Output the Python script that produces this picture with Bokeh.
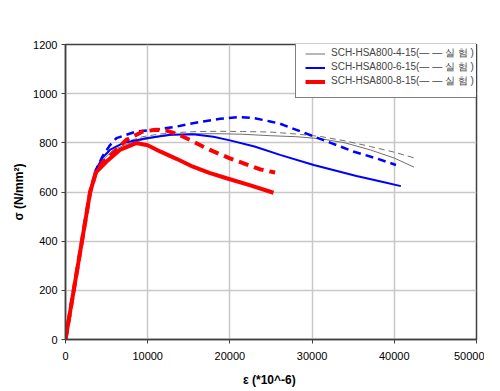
from bokeh.plotting import figure
from bokeh.models import Range1d, Legend, LegendItem, FixedTicker
from bokeh.embed import file_html
from bokeh.resources import INLINE

# strain (*10^-6) and stress (N/mm^2)
g_sol_x = [0, 1500, 3000, 3600, 4500, 5800, 7500, 9400, 11500, 13500, 16000, 18800, 21500, 24900, 28000, 31000, 34000, 37100, 40000, 42400]
g_sol_y = [0, 300, 600, 680, 730, 771, 795, 812, 825, 833, 837, 837, 835, 829, 825, 817, 800, 771, 738, 701]
g_das_x = [0, 1500, 3000, 3600, 4500, 5800, 7500, 9400, 11500, 13500, 16000, 18800, 21500, 24900, 28000, 31000, 34000, 37100, 40000, 42600]
g_das_y = [0, 300, 600, 680, 735, 780, 805, 825, 836, 842, 846, 847, 846, 844, 836, 826, 808, 785, 762, 737]
b_sol_x = [0, 1500, 3000, 3700, 4500, 5400, 7000, 9800, 12700, 15500, 18000, 20000, 23000, 26100, 30200, 35400, 38500, 40800]
b_sol_y = [0, 300, 600, 690, 740, 771, 799, 819, 833, 835, 825, 810, 785, 751, 710, 665, 642, 624]
b_das_x = [0, 1500, 3000, 3700, 4500, 5400, 6200, 8600, 11500, 13500, 15500, 18800, 21200, 23000, 24900, 26100, 30200, 35000, 38000, 40200]
b_das_y = [0, 300, 600, 690, 745, 790, 819, 846, 856, 866, 880, 898, 905, 900, 887, 878, 826, 765, 735, 710]
r_sol_x = [0, 1500, 3000, 3700, 5000, 6600, 8600, 10000, 11500, 13500, 15500, 17500, 19600, 22500, 25300]
r_sol_y = [0, 300, 600, 680, 724, 771, 799, 790, 765, 735, 703, 678, 656, 627, 597]
r_das_x = [0, 1500, 3000, 3700, 4500, 5800, 7400, 9400, 11000, 12300, 14000, 15500, 17500, 20000, 23700, 25500]
r_das_y = [0, 300, 600, 680, 720, 758, 812, 846, 853, 850, 830, 806, 772, 737, 692, 679]

labels = ["SCH-HSA800-4-15(\u2014 \u2014 실 험 )",
          "SCH-HSA800-6-15(\u2014 \u2014 실 험 )",
          "SCH-HSA800-8-15(\u2014 \u2014 실 험 )"]
x_ticks = [0, 10000, 20000, 30000, 40000, 50000]
y_ticks = [0, 200, 400, 600, 800, 1000, 1200]

p = figure(width=484, height=389, output_backend="svg", toolbar_location=None,
           x_range=Range1d(0, 50000), y_range=Range1d(0, 1200),
           min_border_left=65, min_border_right=8, min_border_top=44, min_border_bottom=36)
p.background_fill_color = "white"
p.border_fill_color = "white"
p.outline_line_color = "#404040"
p.outline_line_width = 1.5

gs = p.line(g_sol_x, g_sol_y, line_color="#707070", line_width=1)
p.line(g_das_x, g_das_y, line_color="#707070", line_width=1, line_dash="6 4")
bs = p.line(b_sol_x, b_sol_y, line_color="#0000ff", line_width=2)
p.line(b_das_x, b_das_y, line_color="#0000ff", line_width=2.5, line_dash="8 5")
rs = p.line(r_sol_x, r_sol_y, line_color="#ff0000", line_width=4)
p.line(r_das_x, r_das_y, line_color="#ff0000", line_width=4, line_dash="10 6")

for ax in (p.xaxis[0], p.yaxis[0]):
    ax.axis_line_color = "#404040"
    ax.axis_line_width = 1.5
    ax.major_tick_line_color = "#404040"
    ax.major_tick_in = 0
    ax.major_tick_out = 4
    ax.minor_tick_line_color = None
    ax.major_label_text_font = "Liberation Sans"
    ax.major_label_text_font_size = "11px"
    ax.major_label_text_color = "black"
    ax.axis_label_text_font = "Liberation Sans"
    ax.axis_label_text_font_style = "bold"
    ax.axis_label_text_font_size = "12px"
    ax.axis_label_text_color = "black"

p.xaxis.ticker = FixedTicker(ticks=x_ticks)
p.yaxis.ticker = FixedTicker(ticks=y_ticks)
p.xaxis.axis_label = "\u03b5  (*10^-6)"
p.yaxis.axis_label = "\u03c3 (N/mm\u00b2)"
p.xaxis.major_label_standoff = 8
p.yaxis.major_label_standoff = 4
p.xaxis.axis_label_standoff = 10
p.yaxis.axis_label_standoff = 4

p.xgrid.grid_line_color = "#c8c8c8"
p.ygrid.grid_line_color = "#c8c8c8"
p.xgrid.grid_line_width = 1.5
p.ygrid.grid_line_width = 1.5

legend = Legend(items=[LegendItem(label=labels[0], renderers=[gs]),
                       LegendItem(label=labels[1], renderers=[bs]),
                       LegendItem(label=labels[2], renderers=[rs])],
                location=(230, 241))
legend.label_text_font = "Liberation Sans"
legend.label_text_font_size = "10px"
legend.label_height = 13
legend.glyph_height = 13
legend.glyph_width = 20
legend.label_standoff = 6
legend.spacing = 0
legend.padding = 9
legend.margin = 0
legend.border_line_color = "black"
legend.border_line_width = 1
legend.background_fill_alpha = 1
p.add_layout(legend)

open("out.html", "w").write(file_html(p, INLINE))
